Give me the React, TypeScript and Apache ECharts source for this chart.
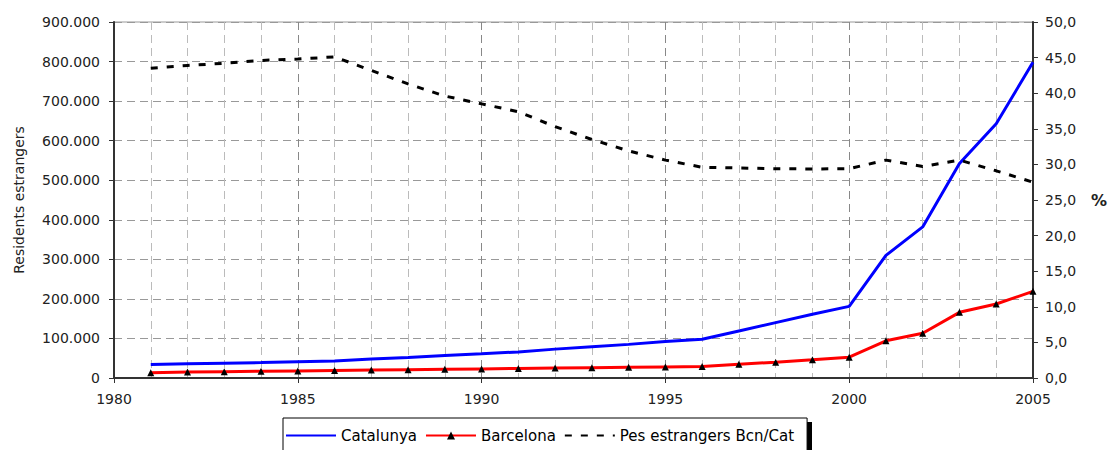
import React, { useEffect, useRef } from "react";
import * as echarts from "echarts";

const years = [1981, 1982, 1983, 1984, 1985, 1986, 1987, 1988, 1989, 1990, 1991, 1992, 1993, 1994, 1995, 1996, 1997, 1998, 1999, 2000, 2001, 2002, 2003, 2004, 2005];
const catalunya = [34000, 36000, 37500, 39000, 41000, 43000, 48000, 52000, 57000, 61000, 66000, 73000, 79000, 85000, 92000, 98000, 119000, 140000, 161000, 181000, 310000, 382000, 542000, 643000, 798000];
const barcelona = [13500, 15000, 16000, 17000, 18000, 19000, 20000, 21000, 22000, 23000, 24000, 25000, 26000, 27000, 28000, 29000, 34500, 40000, 46000, 52500, 94000, 113000, 166000, 187000, 219000];
const pes = [43.5, 43.9, 44.2, 44.6, 44.8, 45.1, 43.2, 41.3, 39.6, 38.5, 37.4, 35.3, 33.5, 31.9, 30.6, 29.6, 29.5, 29.4, 29.35, 29.4, 30.6, 29.7, 30.6, 29.1, 27.5];
const seriesNames = ["Catalunya", "Barcelona", "Pes estrangers Bcn/Cat"];

const fmtThousands = (v: number) => {
  if (v === 0) return "0";
  const s = String(Math.round(v));
  return s.replace(/\B(?=(\d{3})+(?!\d))/g, ".");
};

export default function App() {
  const ref = useRef<HTMLDivElement>(null);
  useEffect(() => {
    document.body.style.margin = "0";
    if (!ref.current) return;
    const chart = echarts.init(ref.current, null, { renderer: "svg" });
    const font = "DejaVu Sans";
    const axisColor = "#333";
    chart.setOption({
      animation: false,
      textStyle: { fontFamily: font },
      grid: {
        left: 114,
        right: 75,
        top: 22,
        bottom: 72,
        show: true,
        borderColor: "#999",
        borderWidth: 1,
      },
      legend: {
        left: 283,
        top: 418,
        orient: "horizontal",
        itemWidth: 50,
        itemHeight: 10,
        itemGap: 8,
        padding: [10, 13, 12, 2],
        borderColor: "#000",
        borderWidth: 1,
        borderRadius: 0,
        backgroundColor: "#fff",
        textStyle: { fontSize: 15, color: "#000", fontFamily: font },
        data: [
          { name: seriesNames[0], itemStyle: { opacity: 0 } },
          { name: seriesNames[1] },
          { name: seriesNames[2], itemStyle: { opacity: 0 } },
        ],
      },
      graphic: [
        {
          type: "rect",
          z: 0,
          shape: { x: 287, y: 422, width: 525, height: 40 },
          style: { fill: "#000" },
        },
      ],
      xAxis: {
        type: "value",
        min: 1980,
        max: 2005,
        interval: 5,
        axisLine: { show: true, lineStyle: { color: axisColor, width: 2 } },
        axisTick: { show: true, length: 5, lineStyle: { color: axisColor } },
        axisLabel: {
          margin: 14,
          fontSize: 14,
          color: "#222",
          formatter: (v: number) => String(v),
        },
        splitLine: { show: true, lineStyle: { color: "#888", type: [8, 5], width: 1 } },
        minorTick: { show: false, splitNumber: 5 },
        minorSplitLine: { show: true, lineStyle: { color: "#bbb", type: [8, 5], width: 1 } },
      },
      yAxis: [
        {
          type: "value",
          min: 0,
          max: 900000,
          interval: 100000,
          position: "left",
          name: "Residents estrangers",
          nameLocation: "middle",
          nameGap: 88,
          nameTextStyle: { fontSize: 14, color: "#222" },
          axisLine: { show: true, lineStyle: { color: axisColor, width: 2 } },
          axisTick: { show: true, length: 5, lineStyle: { color: axisColor } },
          axisLabel: { margin: 14, fontSize: 14, color: "#222", formatter: fmtThousands },
          splitLine: { show: true, lineStyle: { color: "#999", type: [8, 5], width: 1 } },
        },
        {
          type: "value",
          min: 0,
          max: 50,
          interval: 5,
          position: "right",
          name: "%",
          nameLocation: "middle",
          nameRotate: 0,
          nameGap: 58,
          nameTextStyle: { fontSize: 16, fontWeight: "bold", color: "#222" },
          axisLine: { show: true, lineStyle: { color: axisColor, width: 2 } },
          axisTick: { show: true, length: 5, lineStyle: { color: axisColor } },
          axisLabel: {
            margin: 12,
            fontSize: 14,
            color: "#222",
            formatter: (v: number) => v.toFixed(1).replace(".", ","),
          },
          splitLine: { show: false },
        },
      ],
      series: [
        {
          name: seriesNames[0],
          type: "line",
          yAxisIndex: 0,
          data: years.map((y, i) => [y, catalunya[i]]),
          symbol: "none",
          lineStyle: { color: "#0000ff", width: 3 },
          itemStyle: { color: "#0000ff" },
        },
        {
          name: seriesNames[1],
          type: "line",
          yAxisIndex: 0,
          data: years.map((y, i) => [y, barcelona[i]]),
          symbol: "triangle",
          symbolSize: 7,
          lineStyle: { color: "#ff0000", width: 3 },
          itemStyle: { color: "#000" },
        },
        {
          name: seriesNames[2],
          type: "line",
          yAxisIndex: 1,
          data: years.map((y, i) => [y, pes[i]]),
          symbol: "none",
          lineStyle: { color: "#000", width: 3, type: [7, 9] },
          itemStyle: { color: "#000" },
        },
      ],
    });
    return () => chart.dispose();
  }, []);
  return <div ref={ref} style={{ width: 1110, height: 450 }} />;
}
